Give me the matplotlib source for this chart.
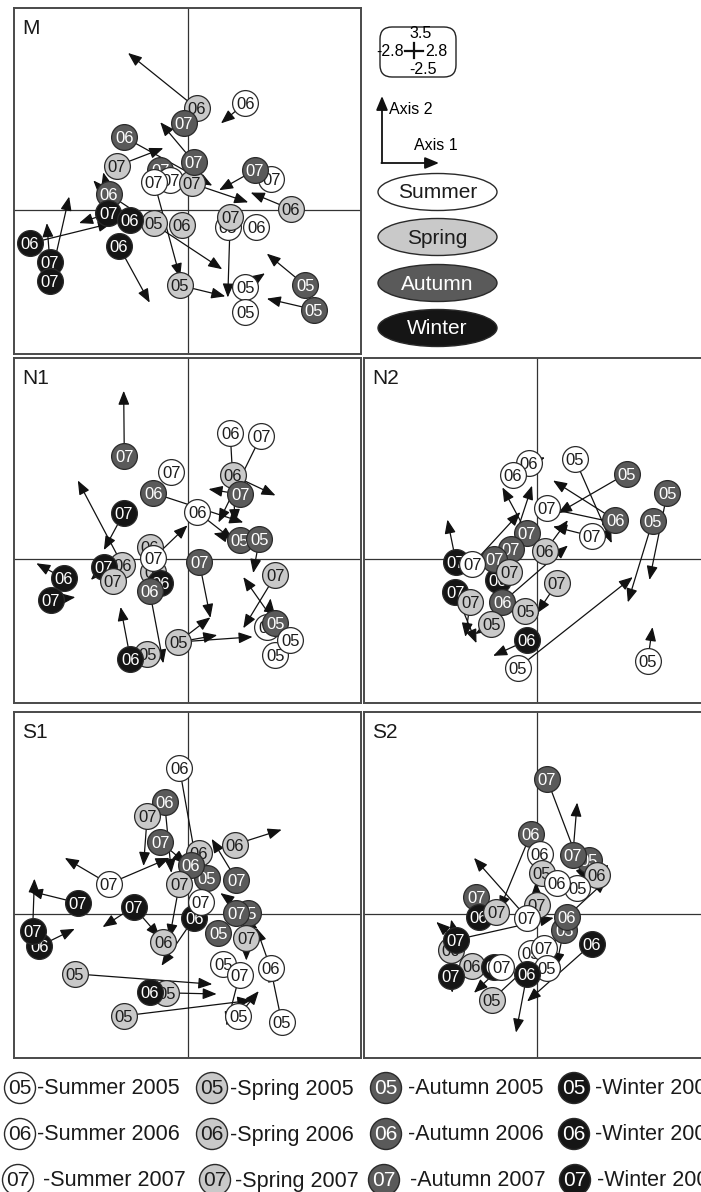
import matplotlib
matplotlib.use("Agg")
import matplotlib.pyplot as plt
from matplotlib.patches import Ellipse, FancyBboxPatch, Circle

plt.rcParams['font.family'] = ['Liberation Sans', 'DejaVu Sans']

# ---------------- data (axis 1 / axis 2 scores) ----------------
SEASONS = ['Su', 'Sp', 'Au', 'Wi']
SEASON_NAMES = ['Summer', 'Spring', 'Autumn', 'Winter']
YEARS = ['05', '06', '07']
PANEL_LABELS = ['M', 'N1', 'N2', 'S1', 'S2']

# Panel M
M_season = ['Sp', 'Au', 'Su', 'Au', 'Sp', 'Au', 'Su', 'Su', 'Sp', 'Au', 'Su', 'Au', 'Sp', 'Au', 'Sp',
            'Sp', 'Wi', 'Wi', 'Su', 'Su', 'Sp', 'Wi', 'Wi', 'Wi', 'Wi', 'Sp', 'Su', 'Su', 'Au', 'Au']
M_year = ['06', '07', '06', '06', '07', '07', '07', '07', '07', '07', '07', '07', '06', '06', '05',
          '06', '07', '06', '05', '06', '07', '06', '07', '07', '06', '05', '05', '05', '05', '05']
M_x = [0.15, -0.06, 0.93, -1.02, -1.14, -0.44, -0.28, -0.54, 0.07, 0.10, 1.35, 1.09, 1.67, -1.27, -0.54,
       -0.09, -1.28, -0.93, 0.65, 1.11, 0.69, -2.54, -2.22, -2.22, -1.11, -0.12, 0.93, 0.93, 1.90, 2.04]
M_y = [1.76, 1.50, 1.85, 1.26, 0.76, 0.69, 0.51, 0.49, 0.46, 0.83, 0.53, 0.69, 0.01, 0.27, -0.22,
       -0.27, -0.06, -0.18, -0.30, -0.29, -0.13, -0.58, -0.91, -1.24, -0.63, -1.31, -1.33, -1.78, -1.31, -1.73]
M_arrow_from = [0, 2, 3, 4, 9, 8, 11, 12, 13, 13, 16, 17, 7, 20, 21, 22, 23, 24, 25, 26, 28, 29]
M_arrow_x = [-0.96, 0.54, 0.40, -0.39, -0.44, 0.98, 0.51, 1.02, 0.56, -1.36, -1.75, -1.52, -0.12, 0.65,
             -1.22, -2.27, -1.91, -0.61, 0.61, 1.25, 1.28, 1.28]
M_arrow_y = [2.72, 1.50, 0.42, 1.07, 1.52, 0.13, 0.34, 0.30, -1.03, 0.65, -0.23, 0.51, -1.17, -1.52,
             -0.23, -0.23, 0.23, -1.61, -1.50, -1.10, -0.76, -1.54]

# Panel N1
N1_season = ['Au', 'Su', 'Su', 'Sp', 'Au', 'Su', 'Au', 'Su', 'Wi', 'Au', 'Au', 'Sp', 'Sp', 'Wi', 'Su',
             'Sp', 'Wi', 'Sp', 'Au', 'Au', 'Wi', 'Wi', 'Sp', 'Su', 'Au', 'Su', 'Su', 'Sp', 'Wi', 'Sp']
N1_year = ['07', '06', '07', '06', '07', '07', '06', '06', '07', '05', '05', '06', '07', '06', '07',
           '06', '07', '07', '07', '06', '06', '07', '07', '05', '05', '05', '05', '05', '06', '05']
N1_x = [-1.02, 0.69, 1.19, 0.73, 0.85, -0.26, -0.55, 0.16, -1.03, 0.84, 1.16, -0.61, -0.55, -0.44, -0.55,
        -1.05, -1.35, -1.21, 0.19, -0.61, -2.00, -2.21, 1.42, 1.29, 1.42, 1.42, 1.66, -0.65, -0.92, -0.15]
N1_y = [1.79, 2.19, 2.15, 1.46, 1.13, 1.51, 1.15, 0.82, 0.80, 0.33, 0.35, 0.21, -0.23, -0.42, 0.02,
        -0.10, -0.14, -0.38, -0.05, -0.56, -0.33, -0.71, -0.28, -1.18, -1.11, -1.67, -1.41, -1.65, -1.74, -1.44]
N1_arrow_from = [0, 1, 2, 3, 4, 6, 7, 8, 9, 10, 15, 16, 14, 18, 19, 20, 21, 22, 24, 23, 26, 28, 29, 29, 29]
N1_arrow_x = [-1.03, 0.77, 0.50, 1.42, 0.34, 0.90, 0.74, -1.35, 0.42, 1.06, -1.77, -1.56, 0.00, 0.37,
              -0.39, -2.44, -1.81, 0.90, 0.90, 1.34, 1.13, -1.08, 1.05, 0.37, 0.48]
N1_arrow_y = [2.93, 0.63, 0.64, 1.11, 1.22, 0.64, 0.33, 0.16, 0.45, -0.24, 1.37, -0.36, 0.59, -1.02,
              -1.81, -0.07, -0.66, -1.20, -0.31, -0.68, -1.15, -0.83, -1.35, -1.01, -1.32]

# Panel N2
N2_season = ['Su', 'Su', 'Su', 'Au', 'Au', 'Au', 'Su', 'Au', 'Su', 'Au', 'Au', 'Sp', 'Wi', 'Wi', 'Au',
             'Sp', 'Su', 'Wi', 'Sp', 'Au', 'Sp', 'Sp', 'Sp', 'Wi', 'Su', 'Su']
N2_year = ['06', '06', '05', '05', '05', '05', '07', '06', '07', '07', '07', '06', '07', '06', '07',
           '07', '07', '07', '07', '06', '07', '05', '05', '06', '05', '05']
N2_x = [-0.13, -0.39, 0.61, 1.45, 2.11, 1.87, 0.16, 1.27, 0.89, -0.16, -0.42, 0.13, -1.31, -0.63, -0.69,
        -0.45, -1.05, -1.32, -1.08, -0.56, 0.32, -0.19, -0.74, -0.16, -0.31, 1.79]
N2_y = [1.67, 1.46, 1.75, 1.49, 1.16, 0.66, 0.89, 0.68, 0.40, 0.45, 0.17, 0.14, -0.05, -0.36, 0.00,
        -0.23, -0.09, -0.57, -0.75, -0.75, -0.42, -0.90, -1.13, -1.41, -1.89, -1.77]
N2_arrow_from = [0, 2, 3, 4, 5, 6, 7, 8, 9, 10, 11, 16, 12, 18, 17, 19, 20, 21, 22, 23, 24, 25]
N2_arrow_x = [0.13, 1.21, 0.34, 1.82, 1.47, 1.29, 0.26, 0.26, -0.56, -0.08, 0.50, -0.27, -1.45, -1.16,
              -0.98, 0.50, 0.00, 0.05, -1.00, -0.71, 1.55, 1.87]
N2_arrow_y = [1.77, 0.28, 0.80, -0.36, -0.75, 0.63, 1.37, 0.57, 1.25, 1.28, 0.68, 0.82, 0.69, -1.35,
              -1.46, 0.24, -0.94, -0.94, -1.30, -1.68, -0.31, -1.18]

# Panel S1
S1_season = ['Su', 'Au', 'Sp', 'Au', 'Sp', 'Sp', 'Au', 'Su', 'Au', 'Au', 'Sp', 'Wi', 'Wi', 'Wi', 'Su',
             'Au', 'Au', 'Au', 'Sp', 'Sp', 'Wi', 'Wi', 'Su', 'Su', 'Su', 'Su', 'Su', 'Sp', 'Sp', 'Wi', 'Sp']
S1_year = ['06', '06', '07', '07', '06', '06', '05', '07', '06', '07', '07', '06', '07', '07', '07',
           '05', '07', '05', '07', '06', '06', '07', '05', '07', '06', '05', '05', '05', '05', '06', '05']
S1_x = [-0.13, -0.37, -0.65, -0.44, 0.18, 0.76, 0.31, -1.27, 0.05, 0.79, -0.13, 0.11, -1.77, -0.87, 0.21,
        0.97, 0.79, 0.50, 0.95, -0.39, -2.39, -2.50, 0.58, 0.84, 1.34, 1.52, 0.82, -1.82, -0.34, -0.61, -1.03]
S1_y = [2.53, 1.94, 1.70, 1.25, 1.06, 1.20, 0.62, 0.52, 0.85, 0.59, 0.52, -0.07, 0.19, 0.12, 0.21,
        0.02, 0.02, -0.34, -0.42, -0.49, -0.56, -0.30, -0.87, -1.06, -0.94, -1.87, -1.77, -1.04, -1.37, -1.35, -1.77]
S1_arrow_from = [0, 1, 2, 3, 5, 7, 7, 9, 10, 12, 13, 13, 11, 16, 15, 18, 21, 20, 23, 24, 25, 26, 27, 28, 30]
S1_arrow_x = [0.16, -0.26, -0.71, -0.02, 1.52, -1.98, -0.29, 0.39, -0.29, -2.56, -1.37, -0.45, -0.42, 1.13,
              0.53, 0.95, -2.47, -1.82, 0.63, 1.11, 1.34, 1.15, 0.40, 0.47, 1.03]
S1_arrow_y = [0.78, 0.71, 0.83, 0.87, 1.46, 0.97, 0.97, 1.30, -0.42, 0.40, -0.23, -0.40, -0.90, -0.26,
              0.36, -0.81, 0.61, -0.26, -1.94, -0.24, -0.94, -1.34, -1.22, -1.39, -1.50]

# Panel S2
S2_season = ['Au', 'Au', 'Su', 'Au', 'Au', 'Sp', 'Sp', 'Su', 'Su', 'Au', 'Wi', 'Sp', 'Sp', 'Su', 'Au',
             'Au', 'Sp', 'Wi', 'Su', 'Su', 'Wi', 'Sp', 'Wi', 'Su', 'Su', 'Wi', 'Wi', 'Sp']
S2_year = ['07', '06', '06', '05', '07', '06', '05', '05', '06', '07', '06', '07', '07', '07', '05',
           '06', '06', '07', '05', '07', '06', '06', '07', '07', '05', '06', '07', '05']
S2_x = [0.16, -0.10, 0.05, 0.84, 0.58, 0.97, 0.08, 0.65, 0.32, -0.98, -0.94, -0.66, 0.00, -0.16, 0.44,
        0.48, -1.39, -1.31, -0.10, 0.11, 0.89, -1.06, -0.69, -0.58, 0.16, -0.16, -1.39, -0.73]
S2_y = [2.34, 1.39, 1.04, 0.94, 1.02, 0.68, 0.71, 0.45, 0.54, 0.30, -0.05, 0.03, 0.16, -0.07, -0.28,
        -0.05, -0.62, -0.45, -0.68, -0.59, -0.52, -0.90, -0.92, -0.92, -0.94, -1.04, -1.07, -1.49]
S2_arrow_from = [0, 1, 4, 13, 15, 15, 17, 17, 17, 20, 25, 26, 23, 27, 12, 5]
S2_arrow_x = [0.79, -0.61, 0.65, -1.02, 0.31, 1.13, -1.39, -1.63, 0.27, -0.16, -0.34, -1.37, -1.02, 0.32,
              -0.02, 1.16]
S2_arrow_y = [0.56, 0.07, 1.93, 0.97, -0.92, 0.59, -0.10, -0.14, -0.07, -1.52, -2.06, -1.37, -1.37, -0.45,
              0.55, 0.85]

# axis ranges shown in the scale box
X_MIN, X_MAX = -2.8, 2.8
Y_MIN, Y_MAX = -2.5, 3.5

# ---------------- style ----------------
FACE = {'Su': '#ffffff', 'Sp': '#c9c9c9', 'Au': '#5a5a5a', 'Wi': '#151515'}
TXT = {'Su': '#1c1c1c', 'Sp': '#1c1c1c', 'Au': '#ffffff', 'Wi': '#ffffff'}
EDGE = '#2a2a2a'

W, H = 701, 1192
fig = plt.figure(figsize=(W / 100, H / 100), dpi=100)
fig.patch.set_facecolor('white')


def px_axes(l, t, w, h):
    return fig.add_axes([l / W, 1 - (t + h) / H, w / W, h / H])


def draw_panel(rect, label, season, year, xs, ys, afrom, axx, ayy):
    ax = px_axes(*rect)
    ax.set_xlim(X_MIN, X_MAX)
    ax.set_ylim(Y_MIN, Y_MAX)
    ax.set_xticks([])
    ax.set_yticks([])
    for sp in ax.spines.values():
        sp.set_color('#4a4a4a')
        sp.set_linewidth(1.4)
    ax.axhline(0, color='#333333', lw=0.9, zorder=1)
    ax.axvline(0, color='#333333', lw=0.9, zorder=1)
    for k, tx, ty in zip(afrom, axx, ayy):
        ax.annotate('', xy=(tx, ty), xytext=(xs[k], ys[k]),
                    arrowprops=dict(arrowstyle='-|>,head_length=0.6,head_width=0.24',
                                    color='#111111', lw=0.9, shrinkA=0, shrinkB=0,
                                    mutation_scale=14),
                    zorder=5)
    for k, (s, yr, x, y) in enumerate(zip(season, year, xs, ys)):
        ax.scatter([x], [y], s=345, c=FACE[s], edgecolors=EDGE, linewidths=0.9,
                   zorder=10 + 2 * k)
        ax.text(x, y, yr, ha='center', va='center_baseline', fontsize=12,
                color=TXT[s], zorder=11 + 2 * k)
    ax.text(0.024, 0.968, label, transform=ax.transAxes, ha='left', va='top',
            fontsize=15, color='#1a1a1a', zorder=200)
    return ax


rects = [(14, 8, 347, 346), (14, 358, 347, 345), (364, 358, 346, 345),
         (14, 712, 347, 346), (364, 712, 346, 346)]
panels = [
    (M_season, M_year, M_x, M_y, M_arrow_from, M_arrow_x, M_arrow_y),
    (N1_season, N1_year, N1_x, N1_y, N1_arrow_from, N1_arrow_x, N1_arrow_y),
    (N2_season, N2_year, N2_x, N2_y, N2_arrow_from, N2_arrow_x, N2_arrow_y),
    (S1_season, S1_year, S1_x, S1_y, S1_arrow_from, S1_arrow_x, S1_arrow_y),
    (S2_season, S2_year, S2_x, S2_y, S2_arrow_from, S2_arrow_x, S2_arrow_y),
]
for rect, lab, p in zip(rects, PANEL_LABELS, panels):
    draw_panel(rect, lab, *p)

# ---------------- overlay for legends (pixel coordinates) ----------------
ov = fig.add_axes([0, 0, 1, 1], zorder=50)
ov.set_xlim(0, W)
ov.set_ylim(H, 0)
ov.axis('off')

# scale box
box = FancyBboxPatch((380, 27), 76, 50, boxstyle='round,pad=0,rounding_size=12',
                     fc='white', ec='#222222', lw=1.0)
ov.add_patch(box)
ov.text(421, 34, f'{Y_MAX:.1f}', ha='center', va='center', fontsize=11.5)
ov.text(423, 69, f'{Y_MIN:.1f}', ha='center', va='center', fontsize=11.5)
ov.text(404, 52, f'{X_MIN:.1f}', ha='right', va='center', fontsize=11.5)
ov.text(425, 52, f'{X_MAX:.1f}', ha='left', va='center', fontsize=11.5)
ov.plot([405, 423], [51, 51], color='#111111', lw=1.6)
ov.plot([414, 414], [43, 58], color='#111111', lw=1.6)

# axis arrows
ov.annotate('', xy=(382, 96), xytext=(382, 163),
            arrowprops=dict(arrowstyle='-|>,head_length=0.6,head_width=0.25', color='#111111',
                            lw=1.3, shrinkA=0, shrinkB=0, mutation_scale=14))
ov.annotate('', xy=(439, 163), xytext=(381.4, 163),
            arrowprops=dict(arrowstyle='-|>,head_length=0.6,head_width=0.25', color='#111111',
                            lw=1.3, shrinkA=0, shrinkB=0, mutation_scale=14))
ov.text(389, 109, 'Axis 2', ha='left', va='center', fontsize=11.5)
ov.text(414, 146, 'Axis 1', ha='left', va='center', fontsize=11.5)

# season ellipses
for s, name, cy in zip(SEASONS, SEASON_NAMES, [192, 237, 283, 328]):
    ov.add_patch(Ellipse((437.5, cy), 119, 37, fc=FACE[s], ec=EDGE, lw=1.0))
    ov.text(437.5, cy + 1, name, ha='center', va='center', fontsize=15, color=TXT[s])

# bottom legend (layout positions in pixels)
circle_x = [[20, 212, 386, 574], [20, 212, 386, 574], [18, 215, 384, 575]]
label_x = [[37, 230, 408, 595], [37, 230, 408, 595], [43, 235, 410, 597]]
row_y = [1088, 1134, 1180]
for r, yr in enumerate(YEARS):
    for c, (s, name) in enumerate(zip(SEASONS, SEASON_NAMES)):
        cx, cy = circle_x[r][c], row_y[r]
        ov.add_patch(Circle((cx, cy), 15.5, fc=FACE[s], ec=EDGE, lw=1.0))
        ov.text(cx, cy + 1, yr, ha='center', va='center', fontsize=15, color=TXT[s])
        ov.text(label_x[r][c], cy + 1, f'-{name} 20{yr}', ha='left', va='center',
                fontsize=15.5, color='#1a1a1a')

fig.savefig('out.png', dpi=100, facecolor='white')
